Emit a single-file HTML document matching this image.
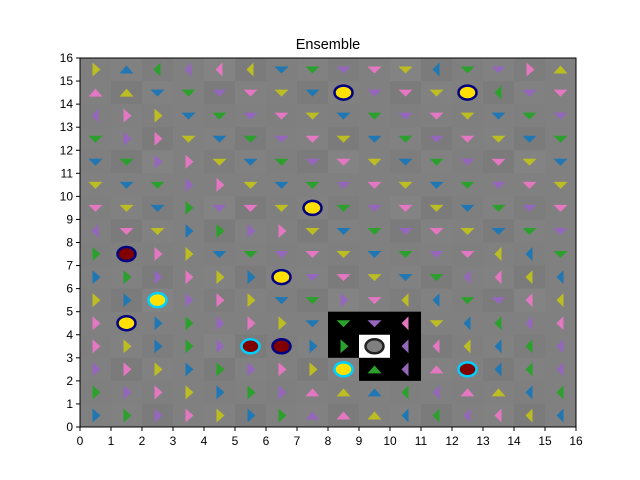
<!DOCTYPE html>
<html><head><meta charset="utf-8"><style>body{margin:0;background:#fff}svg{display:block;font-family:"Liberation Sans",sans-serif}</style></head>
<body>
<svg id="chart" width="640" height="480" viewBox="0 0 640 480" xmlns="http://www.w3.org/2000/svg">
<text x="328" y="49" font-size="14.5" text-anchor="middle">Ensemble</text>
<g id="cells"></g>
<g id="marks"></g>
<rect x="80" y="58" width="496" height="369" fill="none" stroke="#000" stroke-width="1"/>
<g id="axes"></g>
</svg>
<script>
// rows listed from top (y=15) to bottom (y=0); codes: color+direction, C?=circle, B=black cell, W=white cell
const gridRows = [
"yR bU gL pL kL yL bD gD pD kD yD bL gD pD kR yU",
"kU yU bD gD pD kD yD bD CYN pD kD yD CYN gL pD kD",
"pL kR yR bD gD pD kD yD bD gD pD kD yD bD gD pD",
"gD pR kR yD bD gD pD kD yD bD gD pD kD yD bD gD",
"bD gD pR kR yD bD gD pD kD yD bD gD pD kD yD bD",
"yD bD gD pR kR yD bD gD pD kD yD bD gD pD kD yD",
"kD yD bD gR pD kD yD CYN gD pD kD yD bD gD pD kD",
"pL kD yD bR gR pR kR yD bD gD pD kD yD bD gD pD",
"gR CRN kR yR bD gD pD kD yD bD gD pD kD yL bL gD",
"bR gR pR kR yR bR CYN pD kD yD bD gD pL kL yL bL",
"yR bR CYC pR kR yR bD gD pR kD yL bL gD pD kL yL",
"kR CYN bR gR pR kR yR bD BgD BpD BkL yD bL gL pL kL",
"kR yR bR gR pR CRC CRN bR BgR WCG BpL kL yL bL gL pL",
"pR kR yR bR gR pR kR yR CYC BgU BpL kU CRC bL gL pL",
"gR pR kR yR bR gR pR kU yU bU gL pL kU yU bL gL",
"bR gR pR kR yR bR gR pU kU yU bL gL pL kL yL bL"
];
const xTicks=[0,1,2,3,4,5,6,7,8,9,10,11,12,13,14,15,16];
const yTicks=[0,1,2,3,4,5,6,7,8,9,10,11,12,13,14,15,16];
const colors={b:"#1f77b4",g:"#2ca02c",p:"#9467bd",k:"#e377c2",y:"#bcbd22"};
const X0=80,X1=576,Y0=427,Y1=58;
const sx=v=>X0+(X1-X0)*v/16, sy=v=>Y0-(Y0-Y1)*v/16;
const NS="http://www.w3.org/2000/svg";
const cellsG=document.getElementById('cells'),marksG=document.getElementById('marks'),axesG=document.getElementById('axes');
function mk(tag,attrs,parent){const e=document.createElementNS(NS,tag);for(const k in attrs)e.setAttribute(k,attrs[k]);parent.appendChild(e);return e;}
const shades=["#7f7f7f","#818181","#7d7d7d","#808080","#838383","#7b7b7b"];
gridRows.forEach((row,ri)=>{
  const yv=15-ri;
  row.split(" ").forEach((code,ci)=>{
    let bg=shades[(ci*7+ri*3+ci*ri)%shades.length];
    let c=code;
    if(c[0]==='B'){bg="#000";c=c.slice(1);} else if(c[0]==='W'){bg="#fff";c=c.slice(1);}
    const r=mk('rect',{x:sx(ci),y:sy(yv+1),width:sx(1)-sx(0)+0.5,height:sy(0)-sy(1)+0.5,fill:bg},cellsG);
    
    
    const cx=sx(ci+0.5),cy=sy(yv+0.5);
    if(c[0]==='C'){
      const fill=c[1]==='Y'?"#ffe000":c[1]==='R'?"#800000":"#808080";
      const st=c[2]==='N'?"#000080":c[2]==='C'?"#00d0ff":"#222";
      const e=mk('ellipse',{cx:cx,cy:cy,rx:9,ry:7,fill:fill,stroke:st,'stroke-width':c[2]==='G'?1.5:2.5},marksG);
      
      
    } else {
      const col=colors[c[0]],d=c[1];let pts;
      if(d==='U')pts=[[cx-7,cy+4],[cx+7,cy+4],[cx,cy-4]];
      else if(d==='D')pts=[[cx-7,cy-3],[cx+7,cy-3],[cx,cy+4]];
      else if(d==='L')pts=[[cx+3,cy-7],[cx+3,cy+7],[cx-4,cy]];
      else pts=[[cx-3,cy-7],[cx-3,cy+7],[cx+5,cy]];
      const t=mk('polygon',{points:pts.map(p=>p.join(',')).join(' '),fill:col},marksG);
      
      
    }
  });
});
xTicks.forEach(v=>{
  const l=mk('line',{x1:sx(v),x2:sx(v),y1:Y0,y2:Y0+4,stroke:'#000'},axesG);
  
  
  const t=mk('text',{x:sx(v),y:Y0+18,'font-size':12,'text-anchor':'middle'},axesG);
  t.textContent=v;
  
  
});
yTicks.forEach(v=>{
  const l=mk('line',{x1:X0-4,x2:X0,y1:sy(v),y2:sy(v),stroke:'#000'},axesG);
  
  
  const t=mk('text',{x:X0-7,y:sy(v)+4,'font-size':12,'text-anchor':'end'},axesG);
  t.textContent=v;
  
  
});
</script>
</body></html>
